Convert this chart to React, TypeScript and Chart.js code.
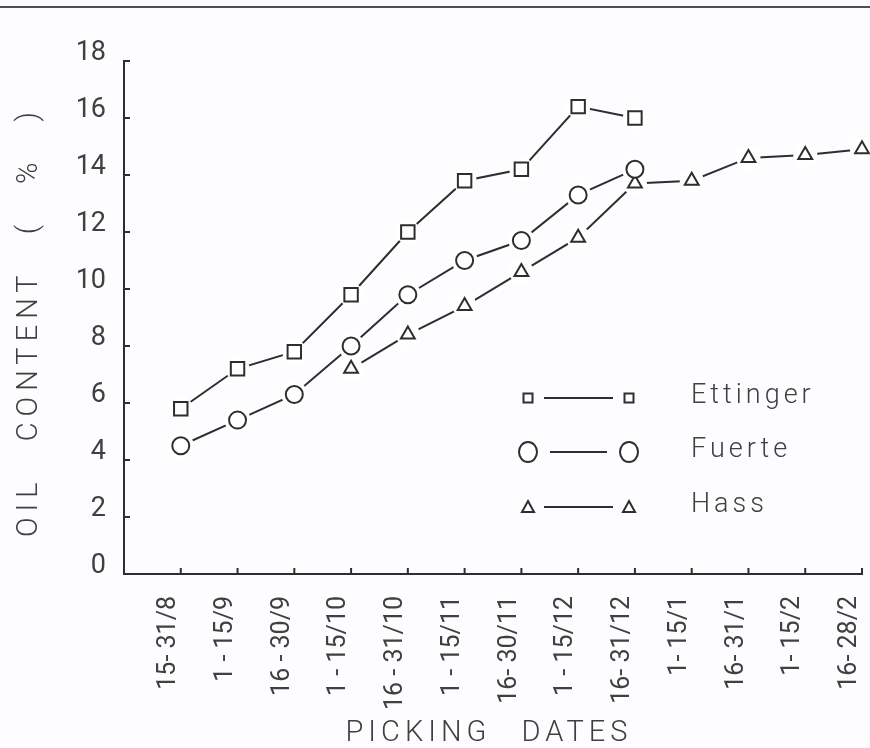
import React, { useEffect, useRef } from "react";
import { Chart, registerables } from "chart.js";

Chart.register(...registerables);

const dates = [
  "15- 31/8", "1 - 15/9", "16 - 30/9", "1 - 15/10", "16 - 31/10", "1 - 15/11",
  "16- 30/11", "1 - 15/12", "16- 31/12", "1- 15/1", "16- 31/1", "1- 15/2", "16- 28/2",
];
const ettinger = [5.8, 7.2, 7.8, 9.8, 12.0, 13.8, 14.2, 16.4, 16.0];
const fuerte = [4.5, 5.4, 6.3, 8.0, 9.8, 11.0, 11.7, 13.3, 14.2];
const hass = [null, null, null, 7.2, 8.4, 9.4, 10.6, 11.8, 13.7, 13.8, 14.6, 14.7, 14.9];
const yTicks = [0, 2, 4, 6, 8, 10, 12, 14, 16, 18];
const seriesNames = ["Ettinger", "Fuerte", "Hass"];

const INK = "#2e2e2e";
const TEXT = "#404040";
const FONT = "Roboto";

function toPoints(vals: (number | null)[]) {
  const pts: { x: number; y: number }[] = [];
  vals.forEach((v, i) => {
    if (v !== null && v !== undefined) pts.push({ x: i, y: v });
  });
  return pts;
}

type Spec = { data: { x: number; y: number }[]; style: string; r: number; halo: number };

function makeDatasets(specs: Spec[]) {
  const out: any[] = [];
  specs.forEach((s) => {
    out.push({
      data: s.data,
      borderColor: INK,
      borderWidth: 2,
      pointRadius: 0,
      showLine: true,
      clip: false,
      order: 3,
    });
    out.push({
      data: s.data,
      showLine: false,
      pointRadius: s.halo,
      pointStyle: "circle",
      pointBackgroundColor: "#ffffff",
      pointBorderWidth: 0,
      pointBorderColor: "#ffffff",
      clip: false,
      order: 2,
    });
    out.push({
      data: s.data,
      showLine: false,
      pointRadius: s.r,
      pointStyle: s.style,
      pointBackgroundColor: "#ffffff",
      pointBorderColor: INK,
      pointBorderWidth: 2,
      clip: false,
      order: 1,
    });
  });
  return out;
}

const bgPlugin = {
  id: "bg",
  beforeDraw(chart: any) {
    const ctx = chart.ctx;
    ctx.save();
    ctx.fillStyle = "#fdfcfe";
    ctx.fillRect(0, 0, chart.width, chart.height);
    ctx.strokeStyle = "#505050";
    ctx.lineWidth = 2;
    ctx.beginPath();
    ctx.moveTo(0, 7);
    ctx.lineTo(chart.width, 7);
    ctx.stroke();
    ctx.restore();
  },
};

const decorPlugin = {
  id: "decor",
  afterDraw(chart: any) {
    const ctx = chart.ctx;
    const ca = chart.chartArea;
    const xs = chart.scales.x;
    const ys = chart.scales.y;
    ctx.save();
    ctx.strokeStyle = INK;
    ctx.lineWidth = 2;
    // inside ticks
    yTicks.forEach((v) => {
      const py = ys.getPixelForValue(v);
      ctx.beginPath();
      ctx.moveTo(ca.left, py);
      ctx.lineTo(ca.left + 6, py);
      ctx.stroke();
    });
    dates.forEach((_, i) => {
      const px = xs.getPixelForValue(i);
      ctx.beginPath();
      ctx.moveTo(px, ca.bottom);
      ctx.lineTo(px, ca.bottom - 6);
      ctx.stroke();
    });

    // axis titles
    ctx.fillStyle = TEXT;
    ctx.font = `300 29px ${FONT}`;
    (ctx as any).letterSpacing = "5px";
    (ctx as any).wordSpacing = "18px";
    ctx.textAlign = "center";
    ctx.textBaseline = "middle";
    ctx.fillText("PICKING DATES", (ca.left + ca.right) / 2 - 4, 734);
    ctx.save();
    ctx.translate(30, (ca.top + ca.bottom) / 2 + 4);
    ctx.rotate(-Math.PI / 2);
    (ctx as any).wordSpacing = "22px";
    (ctx as any).letterSpacing = "6px";
    ctx.fillText("OIL CONTENT ( % )", 0, 0);
    ctx.restore();

    // legend
    const rowsY = [ca.top + 337, ca.top + 391, ca.top + 446];
    const styles = ["rect", "circle", "triangle"];
    const lx1 = ca.left + 404;
    const lx2 = ca.left + 505;
    rowsY.forEach((ry, k) => {
      const st = styles[k];
      ctx.strokeStyle = INK;
      ctx.lineWidth = 2;
      const gap = st === "circle" ? 22 : 16;
      ctx.beginPath();
      ctx.moveTo(lx1 + gap, ry);
      ctx.lineTo(lx2 - gap, ry);
      ctx.stroke();
      [lx1, lx2].forEach((mx) => {
        ctx.beginPath();
        if (st === "rect") {
          ctx.rect(mx - 4.5, ry - 4.5, 9, 9);
        } else if (st === "circle") {
          ctx.ellipse(mx, ry, 9, 10, 0, 0, Math.PI * 2);
        } else {
          ctx.moveTo(mx, ry - 6);
          ctx.lineTo(mx + 6, ry + 5);
          ctx.lineTo(mx - 6, ry + 5);
          ctx.closePath();
        }
        ctx.fillStyle = "#ffffff";
        ctx.fill();
        ctx.stroke();
      });
      ctx.fillStyle = TEXT;
      ctx.font = `300 27px ${FONT}`;
      (ctx as any).letterSpacing = "4px";
      (ctx as any).wordSpacing = "0px";
      ctx.textAlign = "left";
      ctx.textBaseline = "middle";
      ctx.fillText(seriesNames[k], ca.left + 567, ry - 2);
    });
    ctx.restore();
  },
};

export default function App() {
  const ref = useRef<HTMLCanvasElement | null>(null);
  useEffect(() => {
    if (!ref.current) return;
    const chart = new Chart(ref.current, {
      type: "scatter",
      data: {
        datasets: makeDatasets([
          { data: toPoints(ettinger), style: "rect", r: 9.5, halo: 12 },
          { data: toPoints(fuerte), style: "circle", r: 8.5, halo: 13 },
          { data: toPoints(hass), style: "triangle", r: 8, halo: 12 },
        ]),
      },
      options: {
        animation: false,
        responsive: false,
        events: [],
        layout: { autoPadding: false, padding: { top: 61, right: 8, left: 0, bottom: 0 } },
        plugins: { legend: { display: false }, tooltip: { enabled: false } },
        scales: {
          x: {
            type: "linear",
            min: -1,
            max: 12,
            afterBuildTicks: (s: any) => {
              s.ticks = dates.map((_, i) => ({ value: i }));
            },
            afterFit: (s: any) => {
              s.height = 174;
              s.paddingLeft = 0;
              s.paddingRight = 0;
            },
            grid: { display: false, drawTicks: false },
            border: { display: true, color: INK, width: 2 },
            ticks: {
              autoSkip: false,
              minRotation: 90,
              maxRotation: 90,
              padding: 22,
              labelOffset: -12,
              color: TEXT,
              font: { family: FONT, size: 25, weight: "400" as any },
              callback: (v: any) => dates[v as number] ?? "",
            },
          },
          y: {
            min: 0,
            max: 18,
            afterBuildTicks: (s: any) => {
              s.ticks = yTicks.map((v) => ({ value: v }));
            },
            afterFit: (s: any) => {
              s.width = 124;
              s.paddingTop = 0;
              s.paddingBottom = 0;
            },
            grid: { display: false, drawTicks: false },
            border: { display: true, color: INK, width: 2 },
            ticks: {
              padding: 18,
              labelOffset: -8,
              color: TEXT,
              font: { family: FONT, size: 27, weight: "400" as any },
            },
          },
        },
      },
      plugins: [bgPlugin, decorPlugin],
    });
    return () => chart.destroy();
  }, []);
  return (
    <div style={{ position: "fixed", left: 0, top: 0, width: 870, height: 748 }}>
      <canvas ref={ref} width={870} height={748} style={{ width: 870, height: 748 }} />
    </div>
  );
}
